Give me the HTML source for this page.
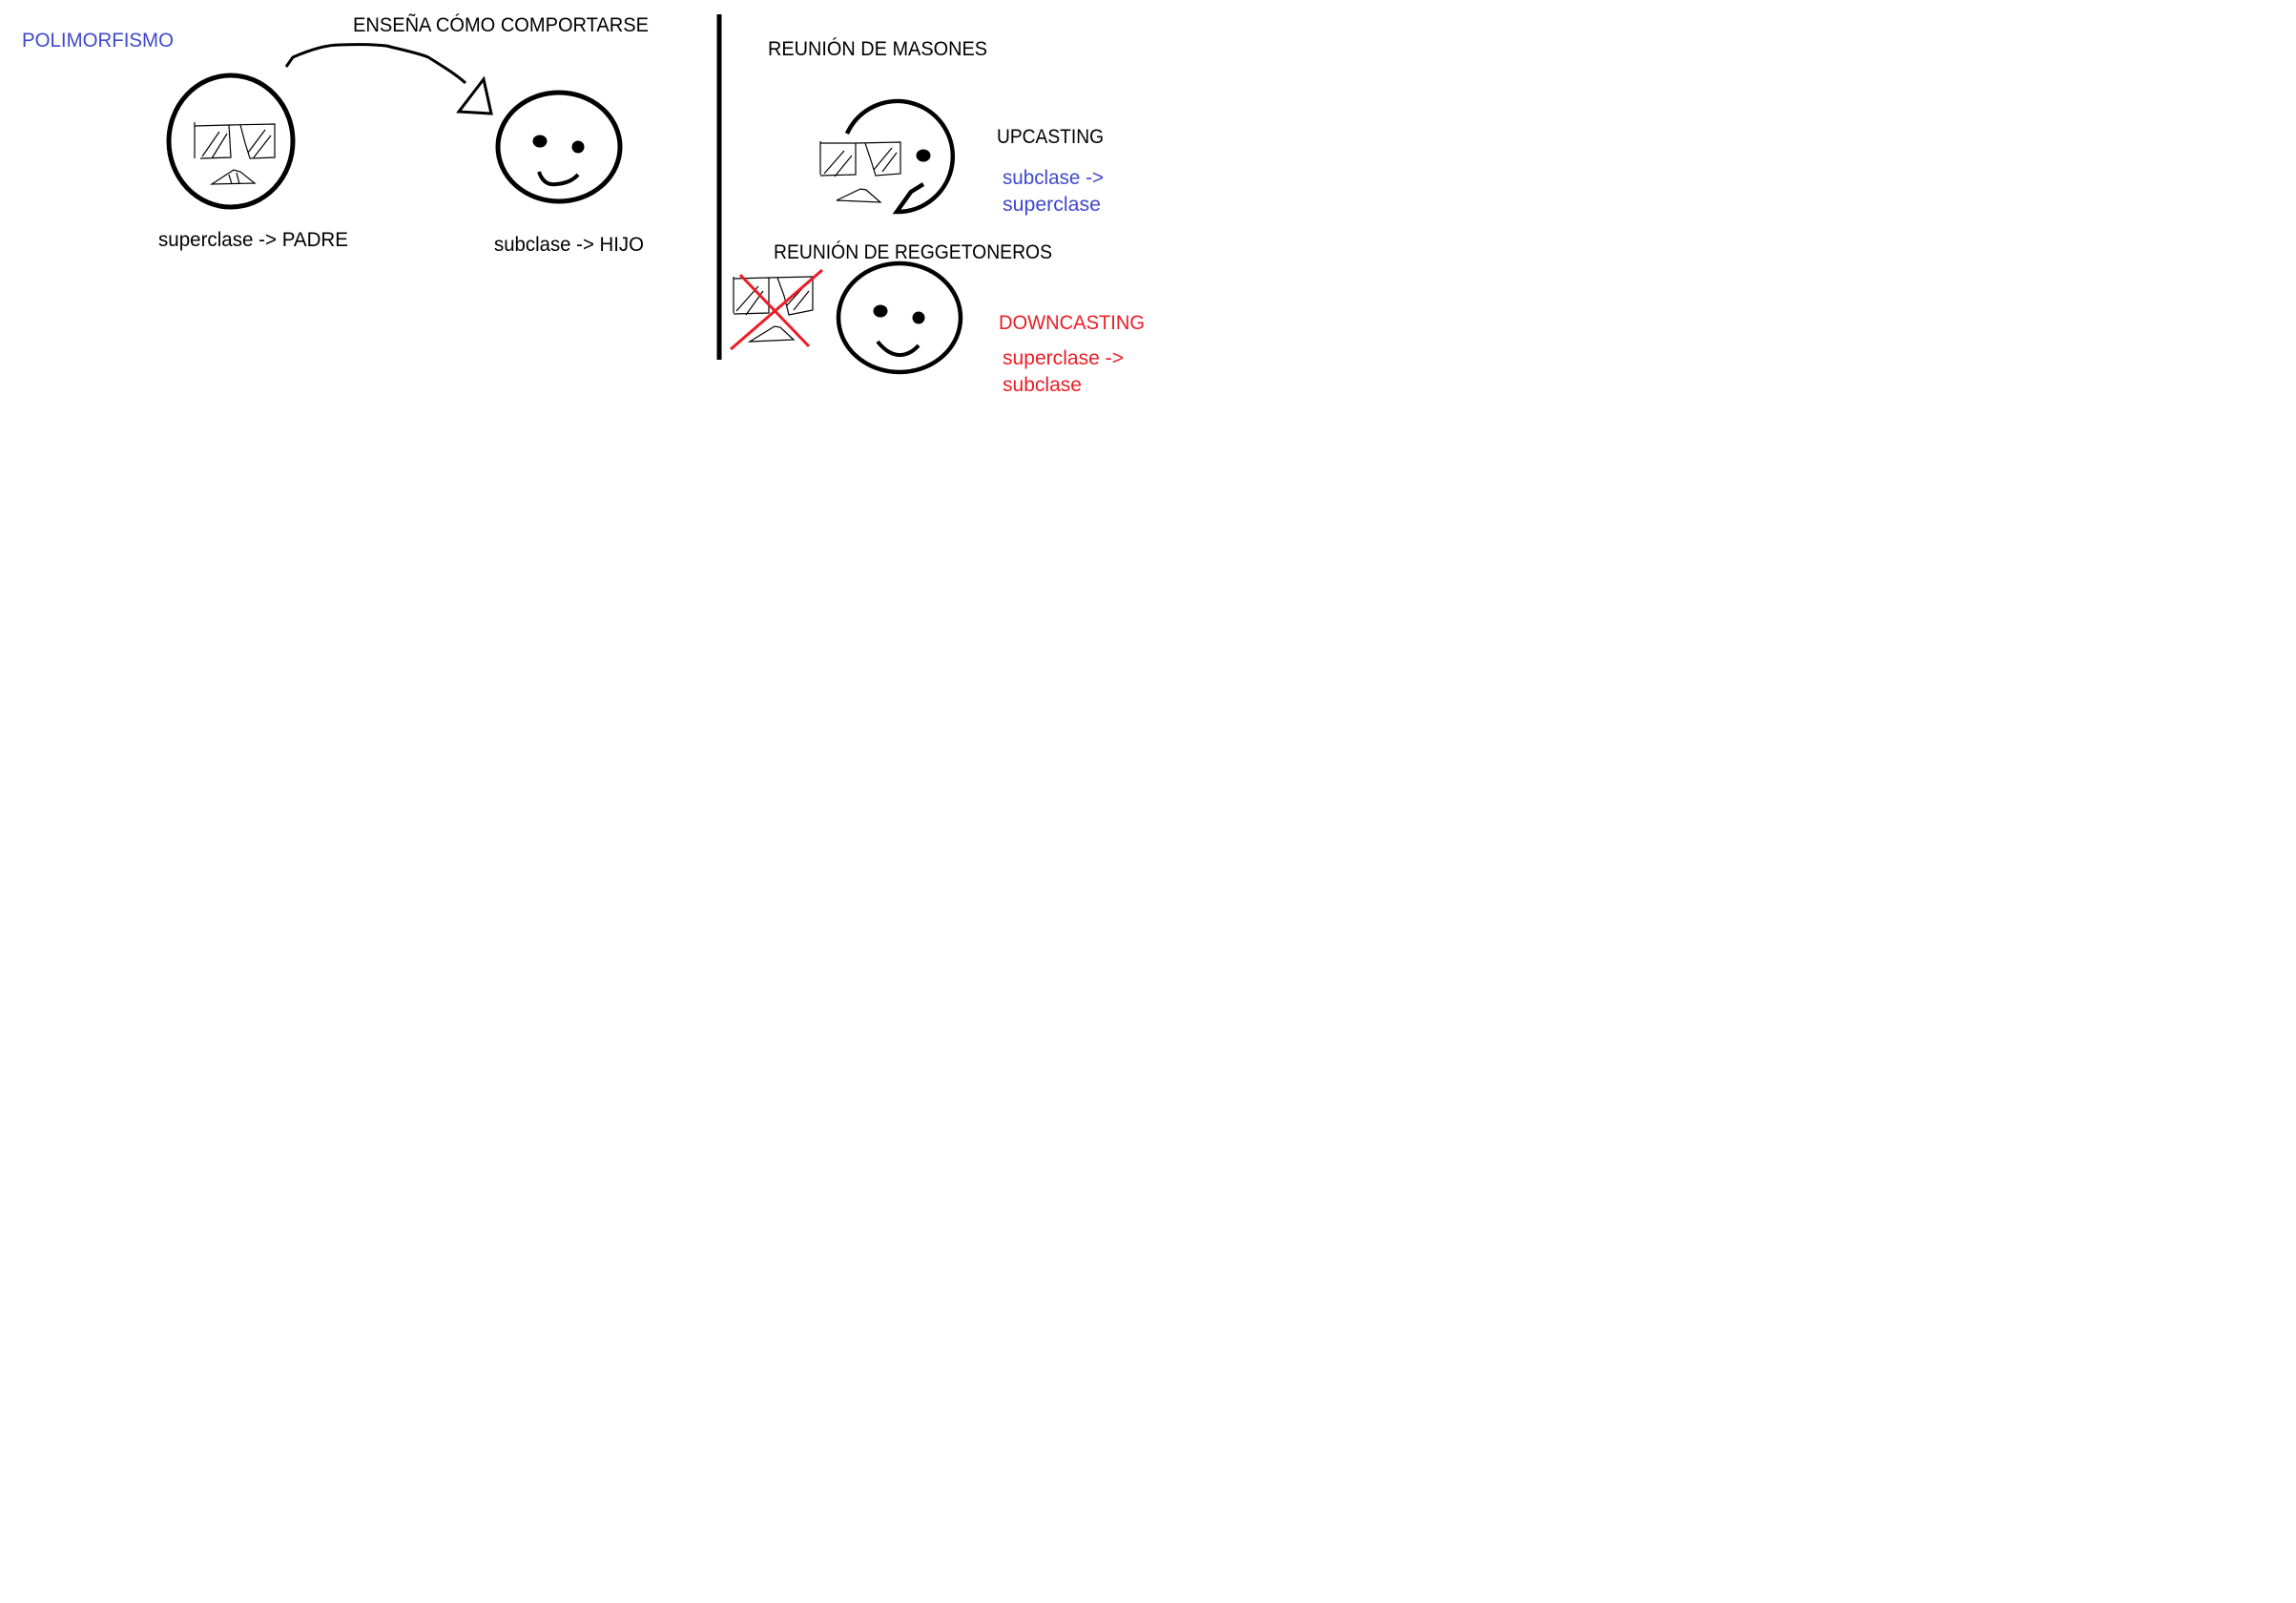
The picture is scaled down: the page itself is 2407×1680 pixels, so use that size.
<!DOCTYPE html>
<html><head><meta charset="utf-8"><style>
html,body{margin:0;padding:0;background:#fff;width:2407px;height:1680px;overflow:hidden}
svg{display:block}
text{font-family:"Liberation Sans",sans-serif;font-size:21px}
</style></head><body>
<svg width="2407" height="1680" viewBox="0 0 2407 1680">
<rect width="2407" height="1680" fill="#fff"/>
<text x="23" y="49" fill="#3f48cc" textLength="159" lengthAdjust="spacingAndGlyphs">POLIMORFISMO</text>
<text x="370" y="33" fill="#000" textLength="310" lengthAdjust="spacingAndGlyphs">ENSEÑA CÓMO COMPORTARSE</text>
<g fill="none" stroke="#000">
<ellipse cx="242" cy="148" rx="65" ry="69" stroke-width="5"/>
<path d="M204 128 L204 166 M204 132 L240 131 L288 130 L288 165 L262 166 L257 150 L252 131 M240 131 L242 165 L210 166 M212 164 L230 138 M222 166 L238 140 M260 160 L278 136 M266 165 L284 142" stroke-width="1.2"/>
<path d="M222 193 L245 178 L252 180 L267 192 Z M240 183 L243 193 M248 181 L251 193" stroke-width="1.2"/>
</g>
<path d="M300 70 L307 60 C330 50 345 47 356 47 C380 46 395 47 405 48 C425 53 440 56 449 60 C465 70 478 78 488 87" fill="none" stroke="#000" stroke-width="3"/>
<path d="M507 83 L481 117 L515 119 Z" fill="none" stroke="#000" stroke-width="3"/>
<g fill="none" stroke="#000">
<ellipse cx="586" cy="154" rx="64" ry="57" stroke-width="5"/>
<ellipse cx="566" cy="148" rx="6" ry="5" stroke-width="3" fill="#000"/>
<ellipse cx="606" cy="154" rx="5" ry="5" stroke-width="3" fill="#000"/>
<path d="M565 180 Q570 195 583 193 Q598 192 606 183" stroke-width="4"/>
</g>
<text x="166" y="258" fill="#000" textLength="199" lengthAdjust="spacingAndGlyphs">superclase -&gt; PADRE</text>
<text x="518" y="263" fill="#000" textLength="157" lengthAdjust="spacingAndGlyphs">subclase -&gt; HIJO</text>
<line x1="754" y1="15" x2="754" y2="377" stroke="#000" stroke-width="5"/>
<text x="805" y="58" fill="#000" textLength="230" lengthAdjust="spacingAndGlyphs">REUNIÓN DE MASONES</text>
<g fill="none" stroke="#000">
<path d="M888 140 A58 58 0 1 1 940 222 L945 215 M940 222 L950 208 L955 201 L968 193" stroke-width="4.5"/>
<path d="M860 148 L860 183 M860 150 L897 150 L944 149 L944 182 L918 184 L913 168 L907 150 M897 150 L897 183 L860 184 M864 182 L885 158 M875 185 L893 163 M916 178 L935 155 M925 180 L940 160" stroke-width="1.2"/>
<path d="M877 210 L902 198 L908 199 L923 212 Z" stroke-width="1.2"/>
<ellipse cx="968" cy="163" rx="6" ry="5" stroke-width="3" fill="#000"/>
</g>
<text x="1045" y="150" fill="#000" textLength="112" lengthAdjust="spacingAndGlyphs">UPCASTING</text>
<text x="1051" y="193" fill="#3f48cc" textLength="106" lengthAdjust="spacingAndGlyphs">subclase -&gt;</text>
<text x="1051" y="221" fill="#3f48cc" textLength="103" lengthAdjust="spacingAndGlyphs">superclase</text>
<text x="811" y="271" fill="#000" textLength="292" lengthAdjust="spacingAndGlyphs">REUNIÓN DE REGGETONEROS</text>
<g fill="none">
<path d="M769 290 L769 328 M769 292 L806 291 L852 290 L852 325 L827 330 L822 310 L815 291 M806 291 L806 328 L769 329 M772 326 L795 300 M782 330 L800 305 M825 320 L845 298 M832 325 L848 305" stroke="#000" stroke-width="1.2"/>
<path d="M786 358 L812 342 L818 343 L832 356 Z" stroke="#000" stroke-width="1.2"/>
<path d="M766 366 L862 283 M776 288 L848 363" stroke="#ed1c24" stroke-width="3"/>
</g>
<g fill="none" stroke="#000">
<ellipse cx="943" cy="333" rx="64" ry="57" stroke-width="4.5"/>
<ellipse cx="923" cy="326" rx="6" ry="5" stroke-width="3" fill="#000"/>
<ellipse cx="963" cy="333" rx="5" ry="5" stroke-width="3" fill="#000"/>
<path d="M920 358 Q932 373 945 372 Q955 371 963 362" stroke-width="4"/>
</g>
<text x="1047" y="345" fill="#ed1c24" textLength="153" lengthAdjust="spacingAndGlyphs">DOWNCASTING</text>
<text x="1051" y="382" fill="#ed1c24" textLength="127" lengthAdjust="spacingAndGlyphs">superclase -&gt;</text>
<text x="1051" y="410" fill="#ed1c24" textLength="83" lengthAdjust="spacingAndGlyphs">subclase</text>
</svg>
</body></html>
